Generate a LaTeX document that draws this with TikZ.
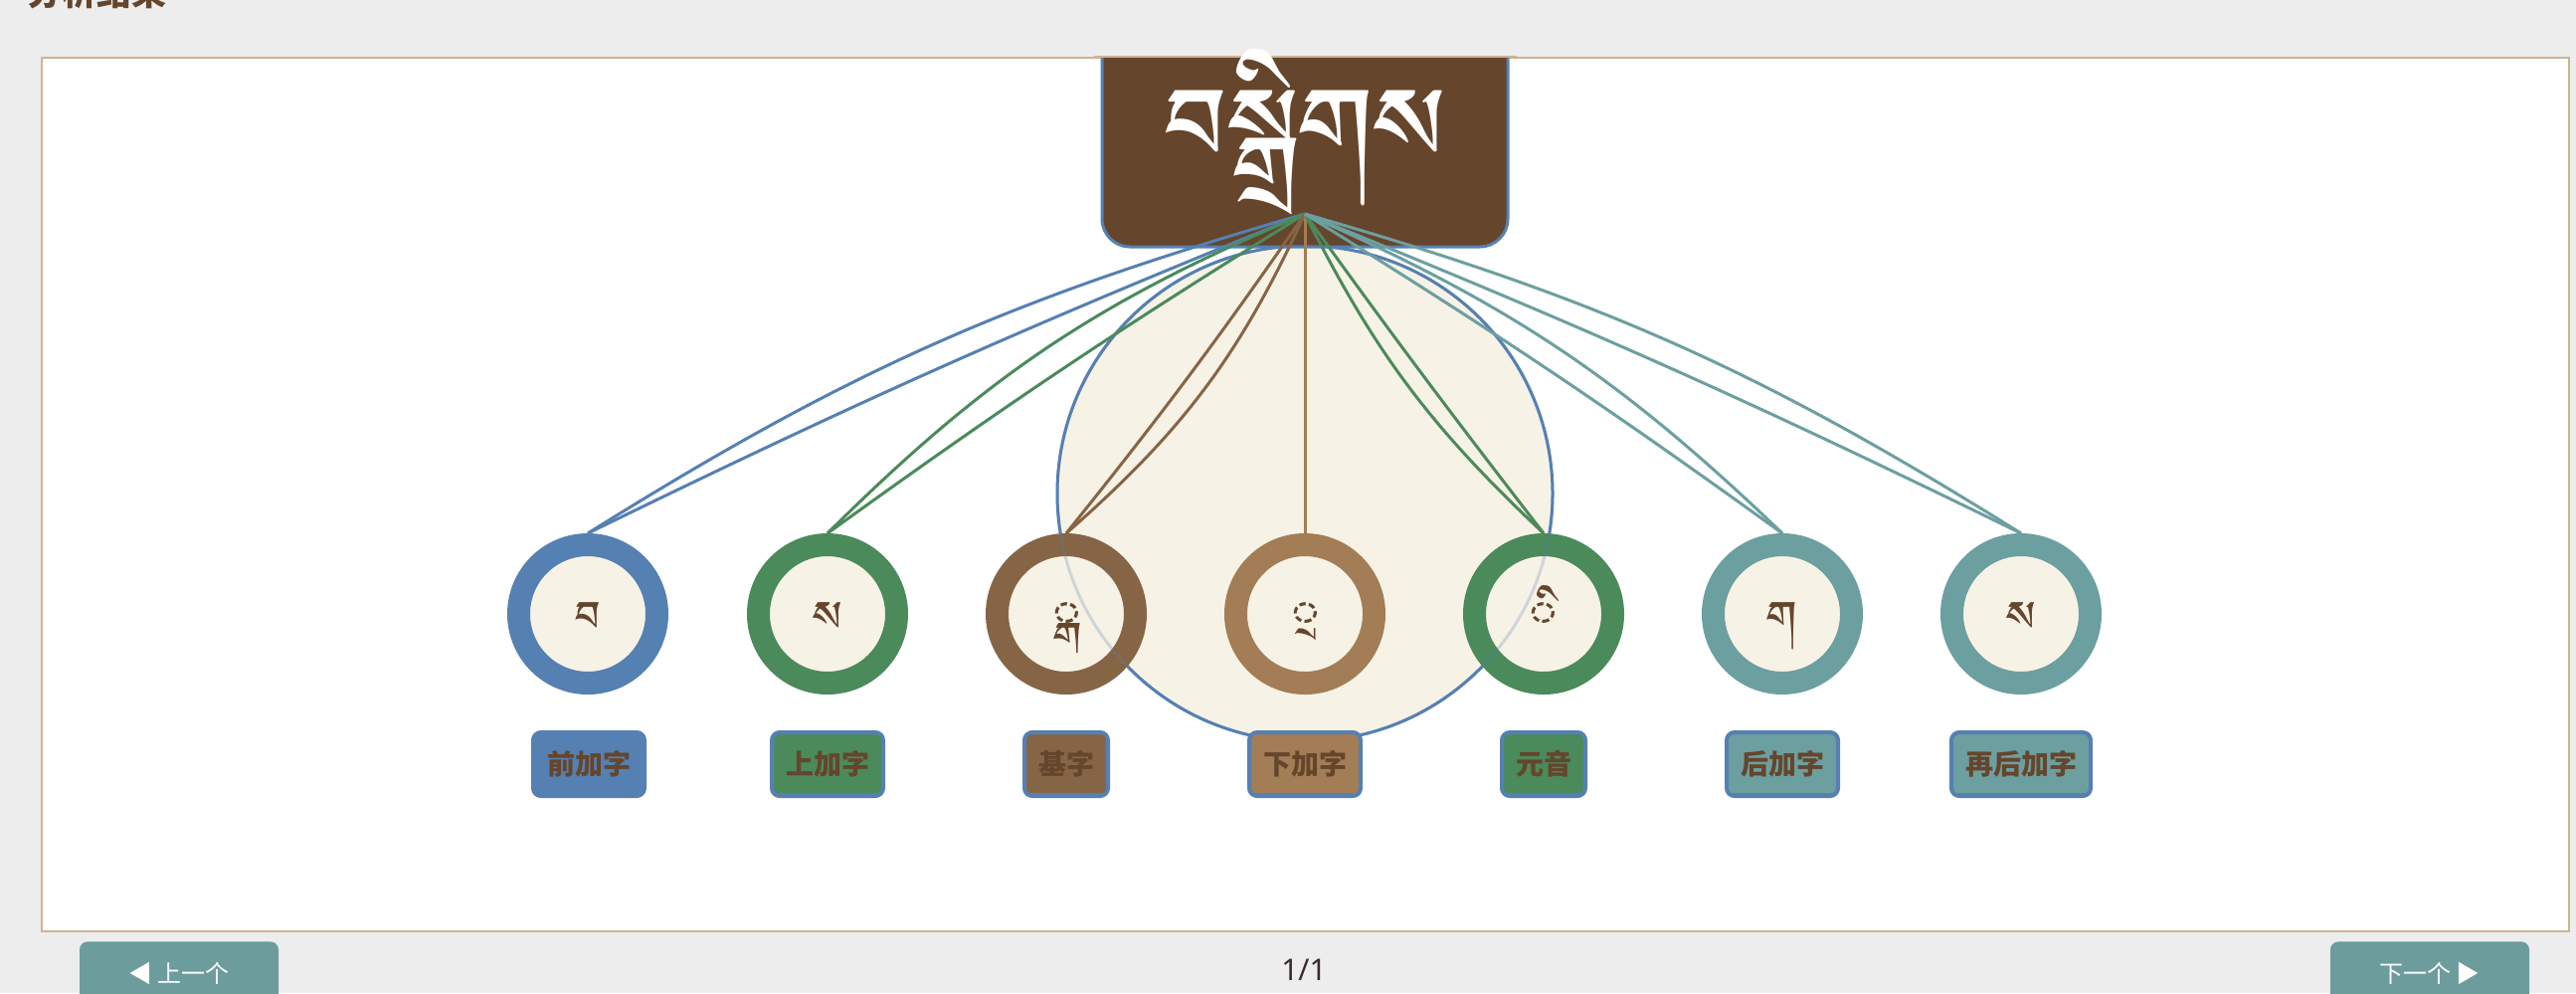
\documentclass[tikz,border=0pt]{standalone}
\usepackage{fontspec}
\usetikzlibrary{calc}
\newfontfamily\cjk{Noto Sans CJK SC}
\newfontfamily\sansf{Noto Sans}
\newfontfamily\tib[Script=Tibetan]{Jomolhari}
\newfontfamily\tiblat[Script=Latin]{Jomolhari}
\newlength\dotw
\newlength\stackAw
\newlength\stackBw
\newlength\shiftA
\newlength\shiftB
\newlength\clipA
\newlength\clipB
\definecolor{pagebg}{HTML}{EDEDED}
\definecolor{panelline}{HTML}{CDB48F}
\definecolor{cblue}{HTML}{5580B2}
\definecolor{cgreen}{HTML}{4B8A5B}
\definecolor{cbrown}{HTML}{866546}
\definecolor{ctan}{HTML}{A27D55}
\definecolor{cteal}{HTML}{6C9FA0}
\definecolor{tbrown}{HTML}{65452C}
\definecolor{cream}{HTML}{F7F2E6}
\definecolor{btnteal}{HTML}{6C9C9C}
\definecolor{pagetext}{HTML}{3A2B2B}
\begin{document}
\settowidth\dotw{\tiblat\fontsize{27pt}{27pt}\selectfont ◌}%
\settowidth\stackAw{\tiblat\fontsize{27pt}{27pt}\selectfont ◌ྒ}%
\settowidth\stackBw{\tiblat\fontsize{27pt}{27pt}\selectfont ◌ྲ}%
\setlength\shiftA{\dimexpr(\dotw+\stackAw)/2\relax}%
\setlength\shiftB{\dimexpr(\dotw+\stackBw)/2\relax}%
\setlength\clipA{\dimexpr\dotw-\shiftA\relax}%
\setlength\clipB{\dimexpr\dotw-\shiftB\relax}%
\begin{tikzpicture}[x=0.5pt,y=-0.5pt,
  ring/.style={circle, draw=#1, line width=11.5pt, fill=cream, minimum size=69.5pt, inner sep=0pt, outer sep=5.75pt},
  glyph/.style={font=\tib\fontsize{27pt}{27pt}\selectfont, text=tbrown, inner sep=0pt, anchor=base},
  latglyph/.style={font=\tiblat\fontsize{27pt}{27pt}\selectfont, text=tbrown, inner sep=0pt, anchor=base},
  lab/.style={draw=cblue, line width=2pt, fill=#1, rounded corners=4pt, inner xsep=7pt, inner ysep=0pt, minimum height=32pt, font=\cjk\bfseries\fontsize{14pt}{14pt}\selectfont, text=tbrown},
  conn/.style={line width=1.5pt, draw=#1},
  btn/.style={fill=btnteal, rounded corners=4pt, minimum width=100pt, minimum height=32pt, inner sep=0pt, text=white, font=\cjk\fontsize{12pt}{12pt}\selectfont}
]
\useasboundingbox (0,0) rectangle (2590,998);
\clip (0,0) rectangle (2590,998);
\fill[pagebg] (0,0) rectangle (2590,998);
% page title (cut off)
\node[anchor=base west, inner sep=0pt, font=\cjk\bfseries\fontsize{17.5pt}{17.5pt}\selectfont, text=tbrown] (pagetitle) at (27,5) {分析结果};
% panel
\node[draw=panelline, line width=1pt, fill=white, minimum width=1270.5pt, minimum height=439pt, inner sep=0pt, anchor=north west] (panel) at (41,57) {};
% big circle
\node[circle, draw=cblue, line width=1.5pt, fill=cream, minimum size=249pt, inner sep=0pt] (big) at (1312,496) {};
% title box
\fill[tbrown] (1108,57) [rounded corners=14] -- (1108,248) -- (1516,248) [sharp corners] -- (1516,57) -- cycle;
\draw[cblue, line width=1.5pt] (1108,57) [rounded corners=14] -- (1108,248) -- (1516,248) [sharp corners] -- (1516,57);
\draw[panelline, line width=1pt] (1100,57) -- (1525,57);
\node[font=\tib\fontsize{66pt}{66pt}\selectfont, text=white, inner sep=0pt] (title) at (1313,133) {བསྒྲིགས};
\coordinate (hub) at (1312,215);
% rings
\node[ring=cblue] (c1) at (591,617) {};
\node[ring=cgreen] (c2) at (832,617) {};
\node[ring=cbrown] (c3) at (1072,617) {};
\node[ring=ctan] (c4) at (1312,617) {};
\node[ring=cgreen] (c5) at (1552,617) {};
\node[ring=cteal] (c6) at (1792,617) {};
\node[ring=cteal] (c7) at (2032,617) {};
\draw[cblue, line width=1.5pt, opacity=0.25] (big.center) circle (249);
\node[glyph] (g1) at (591,645) {བ};
\node[glyph] (g2) at (832,645) {ས};
\begin{scope}
  \clip ([xshift=\clipA]1072,560) rectangle ([xshift=60pt]1072,690);
  \node[latglyph, anchor=base west, xshift=-\shiftA] (g3) at (1072,645) {◌ྒ};
\end{scope}
\begin{scope}
  \clip ([xshift=\clipB]1312,560) rectangle ([xshift=60pt]1312,690);
  \node[latglyph, anchor=base west, xshift=-\shiftB] (g4) at (1312,645) {◌ྲ};
\end{scope}
\node[latglyph] (g5) at (1552,645) {ི};
\node[glyph] (g6) at (1792,645) {ག};
\node[glyph] (g7) at (2032,645) {ས};
% connectors
\draw[conn=cblue] (c1.north) to[bend left=8] (hub);
\draw[conn=cblue] (c1.north) to[bend left=2] (hub);
\draw[conn=cgreen] (c2.north) to[bend left=11] (hub);
\draw[conn=cgreen] (c2.north) to[bend left=2] (hub);
\draw[conn=cbrown] (c3.north) to[bend right=12] (hub);
\draw[conn=cbrown] (c3.north) to[bend right=2] (hub);
\draw[conn=ctan] (c4.north) -- (hub);
\draw[conn=cgreen] (c5.north) to[bend left=10] (hub);
\draw[conn=cgreen] (c5.north) to[bend left=1] (hub);
\draw[conn=cteal] (c6.north) to[bend right=10] (hub);
\draw[conn=cteal] (c6.north) to[bend right=2] (hub);
\draw[conn=cteal] (c7.north) to[bend right=8] (hub);
\draw[conn=cteal] (c7.north) to[bend right=2] (hub);
% labels
\node[lab=cblue] (l1) at (592,768) {前加字};
\node[lab=cgreen] (l2) at (832,768) {上加字};
\node[lab=cbrown] (l3) at (1072,768) {基字};
\node[lab=ctan] (l4) at (1312,768) {下加字};
\node[lab=cgreen] (l5) at (1552,768) {元音};
\node[lab=cteal] (l6) at (1792,768) {后加字};
\node[lab=cteal] (l7) at (2032,768) {再后加字};
\foreach \l in {l2,l3,l4,l5,l6,l7}{
  \draw[cblue, line width=1.5pt] ($(\l.south west)+(8,-4)$) -- ($(\l.south east)+(-8,-4)$);
}
% buttons and pager
\node[btn, anchor=north] (prev) at (180,946) {◀ 上一个};
\node[btn, anchor=north] (next) at (2443,946) {下一个 ▶};
\node[font=\sansf\fontsize{15pt}{15pt}\selectfont, text=pagetext, inner sep=0pt] (pager) at (1311,975) {1/1};
\end{tikzpicture}
\end{document}
